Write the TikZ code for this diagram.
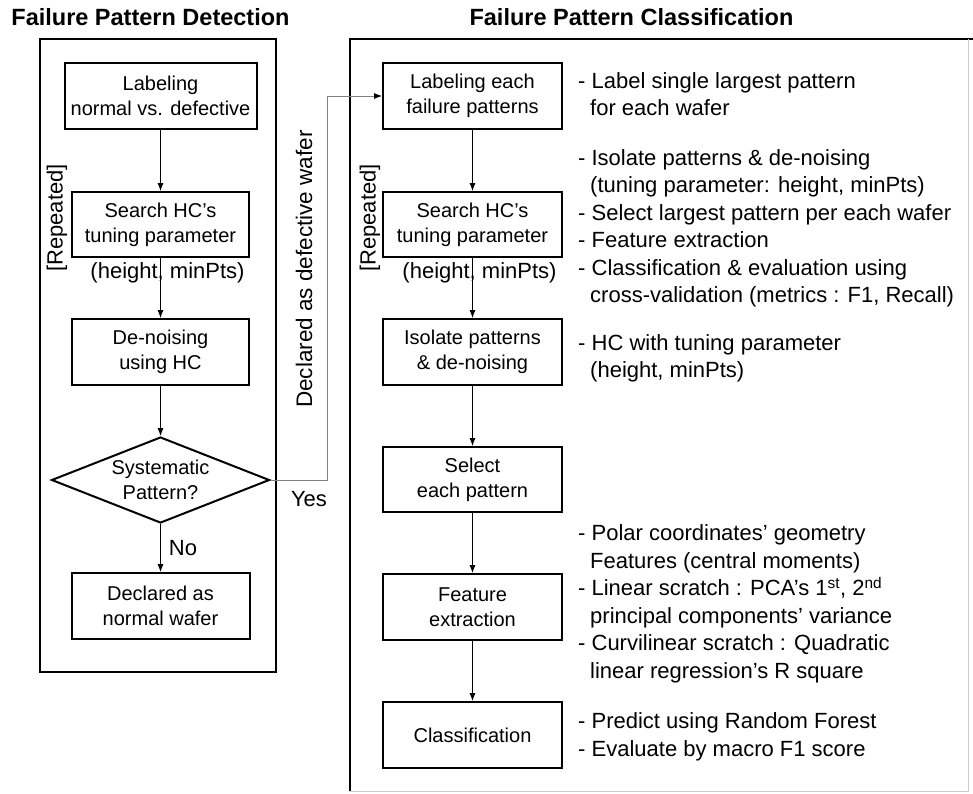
\documentclass[tikz,border=0pt]{standalone}
\usepackage{fontspec}
\setmainfont{Liberation Sans}
\usetikzlibrary{arrows.meta,shapes.geometric}

\begin{document}
\begin{tikzpicture}[x=1pt,y=-1pt,
	box/.style={draw,line width=2pt,minimum width=177pt,minimum height=65pt,inner sep=0pt,align=center,font=\fontsize{20}{25}\selectfont},
	note/.style={inner sep=0pt,align=left,anchor=west,font=\fontsize{22}{27.5}\selectfont},
	side/.style={inner sep=0pt,font=\fontsize{22}{27}\selectfont},
	flow/.style={-{Latex[length=8pt,width=6pt,black]},line width=0.8pt},
	frame/.style={line width=2pt},
	title/.style={inner sep=0pt,font=\fontsize{23.5}{28}\selectfont\bfseries}]
	\useasboundingbox[fill=white] (0,0) rectangle (973,793);
	% titles
	\node[title] (t1) at (150.5,17) {Failure Pattern Detection};
	\node[title] (t2) at (631.5,17) {Failure Pattern Classification};
	% frames
	\draw[frame] (40,39) rectangle (276,672);
	\draw[frame] (350,791) -- (350,39) -- (973,39);
	\draw[gray!40,line width=0.8pt] (968,39) -- (968,791) -- (350,791);
	% detection
	\node[box,minimum width=192pt,minimum height=66pt] (lab1) at (160.5,96) {Labeling\\normal vs. defective};
	\node[box] (hc1) at (160.5,224.5) {Search HC's\\tuning parameter};
	\node[box,minimum height=66pt] (dn1) at (160.5,352) {De-noising\\using HC};
	\node[draw,diamond,line width=2pt,shape aspect=2.53,minimum width=218pt,minimum height=86pt,inner sep=0pt,align=center,font=\fontsize{20}{25}\selectfont] (sys) at (160.5,480) {Systematic\\Pattern?};
	\node[box,minimum width=178pt,minimum height=66pt] (nrm1) at (160.5,606) {Declared as\\normal wafer};
	\node[side] (par1) at (167.5,273) {(height, minPts)};
	\node[side,rotate=90] (rep1) at (57,218) {[Repeated]};
	\node[side] (no) at (183,548) {No};
	\draw[flow] (lab1) -- (hc1);
	\draw[flow] (hc1) -- (dn1);
	\draw[flow] (dn1) -- (sys);
	\draw[flow] (sys) -- (nrm1);
	% classification
	\node[box,minimum width=179pt,minimum height=66pt] (lab2) at (472.5,96) {Labeling each\\failure patterns};
	\node[box,minimum width=179pt] (hc2) at (472.5,224.5) {Search HC's\\tuning parameter};
	\node[box,minimum width=179pt,minimum height=66pt] (iso2) at (472.5,352) {Isolate patterns\\\& de-noising};
	\node[box,minimum width=179pt] (sel2) at (472.5,479.5) {Select\\each pattern};
	\node[box,minimum width=179pt,minimum height=66pt] (feat2) at (472.5,607) {Feature\\extraction};
	\node[box,minimum width=179pt,minimum height=66pt] (cls2) at (472.5,735) {Classification};
	\node[side] (par2) at (479.5,273) {(height, minPts)};
	\node[side,rotate=90] (rep2) at (370,218) {[Repeated]};
	\draw[flow] (lab2) -- (hc2);
	\draw[flow] (hc2) -- (iso2);
	\draw[flow] (iso2) -- (sel2);
	\draw[flow] (sel2) -- (feat2);
	\draw[flow] (feat2) -- (cls2);
	% yes branch
	\coordinate (turn) at (327,96);
	\draw[flow,gray] (sys.east) -| (turn) -- (lab2.west);
	\node[side] (yes) at (309,499) {Yes};
	\node[side,rotate=90,font=\fontsize{22.5}{27}\selectfont] (decl) at (304,269) {Declared as defective wafer};
	% notes
	\node[note] (n1) at (578,94) {- Label single largest pattern\\\hspace*{12pt}for each wafer};
	\node[note] (n2) at (578,228.5) {- Isolate patterns \& de-noising\\\hspace*{12pt}(tuning parameter: height, minPts)\\- Select largest pattern per each wafer\\- Feature extraction\\- Classification \& evaluation using\\\hspace*{12pt}cross-validation (metrics : F1, Recall)};
	\node[note] (n3) at (578,358.5) {- HC with tuning parameter\\\hspace*{12pt}(height, minPts)};
	\node[note] (n4) at (578,604) {- Polar coordinates' geometry\\\hspace*{12pt}Features (central moments)\\- Linear scratch : PCA's 1\textsuperscript{st}, 2\textsuperscript{nd}\\\hspace*{12pt}principal components' variance\\- Curvilinear scratch : Quadratic\\\hspace*{12pt}linear regression's R square};
	\node[note] (n5) at (578,737) {- Predict using Random Forest\\- Evaluate by macro F1 score};
\end{tikzpicture}
\end{document}
